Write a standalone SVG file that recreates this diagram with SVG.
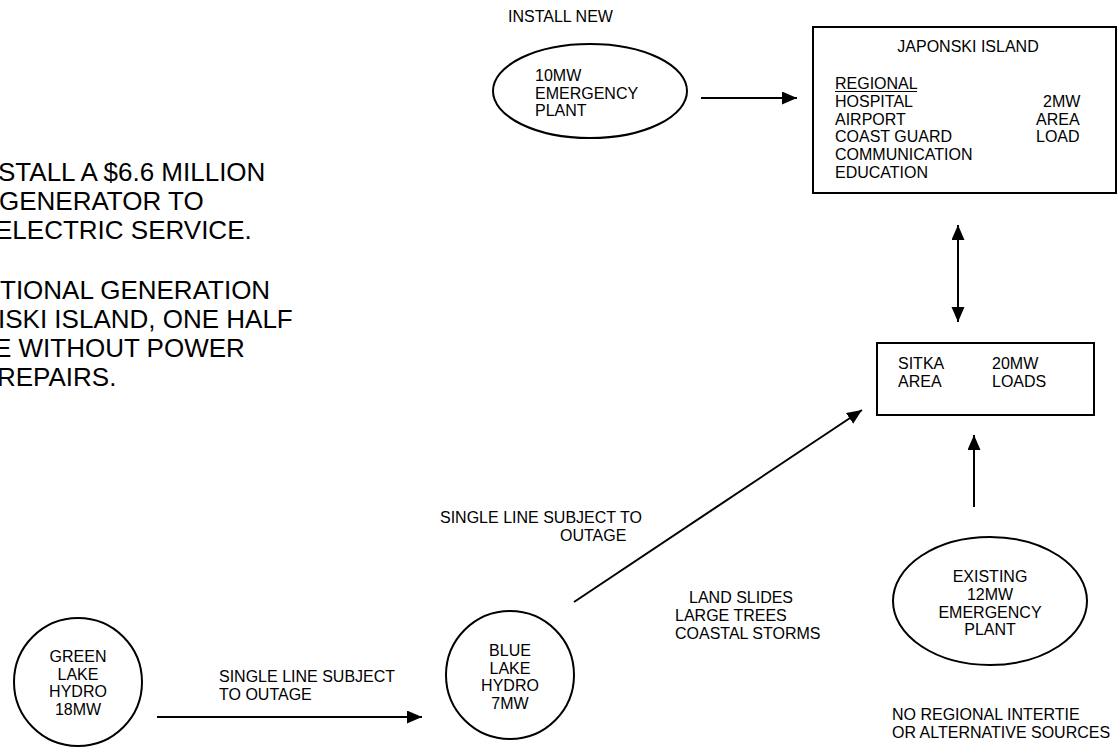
<svg xmlns="http://www.w3.org/2000/svg" width="1117" height="752" viewBox="0 0 1117 752">
<style>
text{font-family:"Liberation Sans",Arial,sans-serif;font-size:16px;fill:#000}
.big{font-size:26px}
.c{text-anchor:middle}
.shape{fill:#fff;stroke:#000;stroke-width:2}
.conn{stroke:#000;stroke-width:2;fill:none}
</style>
<defs>
<marker id="ah" markerUnits="userSpaceOnUse" markerWidth="16" markerHeight="14" refX="15" refY="6.5" orient="auto-start-reverse">
<path d="M0,0 L15,6.5 L0,13 z" fill="#000"/>
</marker>
</defs>
<rect width="1117" height="752" fill="#fff"/>
<g id="note">
<text class="big" x="-2" y="181">STALL A $6.6 MILLION</text>
<text class="big" x="-1" y="210">GENERATOR TO</text>
<text class="big" x="-5" y="239">ELECTRIC SERVICE.</text>
<text class="big" x="0" y="299">TIONAL GENERATION</text>
<text class="big" x="-2" y="328">ISKI ISLAND, ONE HALF</text>
<text class="big" x="-6" y="357">E WITHOUT POWER</text>
<text class="big" x="-3" y="386">REPAIRS.</text>
</g>
<g id="new-plant">
<text x="508" y="22">INSTALL NEW</text>
<ellipse class="shape" cx="590" cy="91" rx="97" ry="47"/>
<text x="535" y="81">10MW</text>
<text x="535" y="99">EMERGENCY</text>
<text x="535" y="116">PLANT</text>
</g>
<g id="japonski">
<rect class="shape" x="813" y="27" width="303" height="166"/>
<text class="c" x="968" y="52">JAPONSKI ISLAND</text>
<text x="835" y="89">REGIONAL</text>
<line x1="835" y1="91.5" x2="917" y2="91.5" stroke="#000" stroke-width="1.2"/>
<text x="835" y="107">HOSPITAL</text>
<text x="835" y="125">AIRPORT</text>
<text x="835" y="142">COAST GUARD</text>
<text x="835" y="160">COMMUNICATION</text>
<text x="835" y="178">EDUCATION</text>
<text x="1043" y="107">2MW</text>
<text x="1036" y="125">AREA</text>
<text x="1036" y="142">LOAD</text>
</g>
<g id="sitka">
<rect class="shape" x="877" y="343" width="217" height="72"/>
<text x="898" y="369">SITKA</text>
<text x="898" y="387">AREA</text>
<text x="992" y="369">20MW</text>
<text x="992" y="387">LOADS</text>
</g>
<g id="existing">
<ellipse class="shape" cx="990" cy="601" rx="97" ry="64"/>
<text class="c" x="990" y="582">EXISTING</text>
<text class="c" x="990" y="600">12MW</text>
<text class="c" x="990" y="618">EMERGENCY</text>
<text class="c" x="990" y="635">PLANT</text>
</g>
<g id="blue-lake">
<circle class="shape" cx="510" cy="675" r="64"/>
<text class="c" x="510" y="656">BLUE</text>
<text class="c" x="510" y="674">LAKE</text>
<text class="c" x="510" y="691">HYDRO</text>
<text class="c" x="510" y="709">7MW</text>
</g>
<g id="green-lake">
<circle class="shape" cx="78" cy="682" r="64"/>
<text class="c" x="78" y="662">GREEN</text>
<text class="c" x="78" y="680">LAKE</text>
<text class="c" x="78" y="697">HYDRO</text>
<text class="c" x="78" y="715">18MW</text>
</g>
<g id="labels">
<text x="440" y="523">SINGLE LINE SUBJECT TO</text>
<text x="560" y="541">OUTAGE</text>
<text x="689" y="603">LAND SLIDES</text>
<text x="675" y="621">LARGE TREES</text>
<text x="675" y="639">COASTAL STORMS</text>
<text x="219" y="682">SINGLE LINE SUBJECT</text>
<text x="219" y="700">TO OUTAGE</text>
<text x="892" y="720">NO REGIONAL INTERTIE</text>
<text x="892" y="738">OR ALTERNATIVE SOURCES</text>
</g>
<g id="connectors">
<line class="conn" x1="701" y1="98" x2="797" y2="98" marker-end="url(#ah)"/>
<line class="conn" x1="958" y1="225" x2="958" y2="322" marker-start="url(#ah)" marker-end="url(#ah)"/>
<line class="conn" x1="974" y1="507" x2="974" y2="435" marker-end="url(#ah)"/>
<line class="conn" x1="574" y1="602" x2="862" y2="410" marker-end="url(#ah)"/>
<line class="conn" x1="157" y1="717" x2="422" y2="717" marker-end="url(#ah)"/>
</g>
</svg>
